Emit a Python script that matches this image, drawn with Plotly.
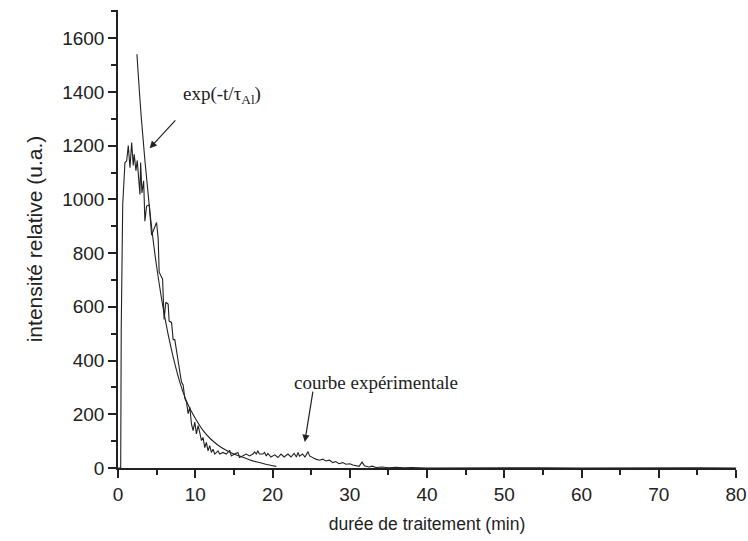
import plotly.graph_objects as go

t_exp = [0.0, 0.35, 0.42, 0.61, 0.90, 1.12, 1.33, 1.55, 1.77, 1.97, 2.10, 2.32, 2.49, 2.67,
         2.84, 2.93, 3.10, 3.32, 3.48, 3.70, 4.04, 4.35, 4.65, 4.99, 5.20, 5.33, 5.55, 5.77,
         5.97, 6.19, 6.49, 6.62, 6.93, 7.14, 7.35, 7.57, 7.80, 8.00, 8.21, 8.43, 8.65, 8.86,
         9.08, 9.29, 9.51, 9.72, 9.94, 10.15, 10.37, 10.58, 10.80, 11.01, 11.23, 11.44, 11.66,
         11.87, 12.09, 12.30, 12.52, 12.95, 13.16, 13.59, 14.02, 14.45, 14.67, 15.10, 15.52,
         15.74, 16.17, 16.60, 17.03, 17.46, 17.68, 17.90, 18.10, 18.30, 18.75, 18.97, 19.20,
         19.40, 19.80, 20.30, 20.70, 21.10, 21.50, 22.00, 22.40, 22.80, 23.10, 23.30, 23.50,
         23.90, 24.20, 24.60, 24.80, 25.20, 25.60, 26.10, 26.50, 26.90, 27.40, 27.80, 28.20,
         28.60, 29.10, 29.50, 30.00, 30.40, 30.80, 31.20, 31.60, 31.90, 32.50, 32.90, 33.40,
         34.20, 35.00, 36.00, 37.00, 38.00, 40.00, 45.00, 50.00, 55.00, 60.00, 65.00, 70.00,
         75.00, 80.00]
i_exp = [0, 0, 520, 980, 1137, 1143, 1200, 1118, 1212, 1126, 1168, 1107, 1145, 1093,
         1018, 1137, 1024, 1069, 919, 975, 980, 867, 892, 914, 855, 729, 716, 704,
         553, 617, 610, 547, 542, 478, 478, 440, 400, 352, 321, 309, 259, 246,
         202, 227, 164, 139, 171, 127, 158, 133, 102, 114, 76, 95, 64,
         83, 58, 70, 52, 64, 52, 58, 52, 66, 45, 52, 58,
         39, 45, 52, 45, 52, 60, 52, 64, 52, 52, 58, 45,
         54, 41, 49, 39, 52, 41, 52, 41, 54, 41, 58, 44,
         52, 41, 61, 45, 39, 33, 29, 33, 26, 29, 20, 24,
         16, 20, 14, 16, 11, 8, 6, 22, 8, 4, 7, 2,
         4, 1, 3, 1, 2, 0, 1, 0, 1, 0, 1, 0,
         1, 0]

# fitted decay exp(-t/tau_Al)
t_fit = [2.45, 3.0, 3.5, 4.0, 4.5, 5.0, 6.0, 7.0, 8.0, 9.0, 10.0, 11.0, 12.0, 13.0,
         14.0, 15.0, 16.0, 17.0, 18.0, 19.0, 20.5]
i_fit = [1540, 1310, 1140, 990, 860, 750, 570, 430, 320, 240, 185, 140, 108, 84,
         66, 52, 42, 31, 22, 15, 6]

fig = go.Figure()

fig.add_trace(go.Scatter(
    x=t_exp, y=i_exp, mode='lines',
    line=dict(color='#222222', width=1.1),
    showlegend=False
))

fig.add_trace(go.Scatter(
    x=t_fit, y=i_fit, mode='lines',
    line=dict(color='#222222', width=1.1, shape='spline'),
    showlegend=False
))

serif = dict(family='Liberation Serif, Times New Roman, serif', size=19, color='#222222')

fig.add_annotation(x=8.2, y=1388, xref='x', yref='y', text='exp(-t/τ<sub>Al</sub>)',
                   showarrow=False, xanchor='left', yanchor='middle', font=serif)
fig.add_annotation(x=4.1, y=1190, ax=7.6, ay=1300, xref='x', yref='y', axref='x', ayref='y',
                   text='', showarrow=True, arrowhead=2, arrowsize=1.2, arrowwidth=1.2,
                   arrowcolor='#222222')

fig.add_annotation(x=22.46, y=320, xref='x', yref='y', text='courbe expérimentale',
                   showarrow=False, xanchor='left', yanchor='middle', font=serif)
fig.add_annotation(x=24.18, y=97, ax=25.26, ay=290, xref='x', yref='y', axref='x', ayref='y',
                   text='', showarrow=True, arrowhead=2, arrowsize=1.2, arrowwidth=1.2,
                   arrowcolor='#222222')

sans = 'Arial, Liberation Sans, sans-serif'
axis_font = dict(family=sans, size=19, color='#222222')

fig.update_layout(
    width=748, height=541,
    margin=dict(l=118, r=12, t=10, b=73),
    plot_bgcolor='white', paper_bgcolor='white',
    font=axis_font,
    xaxis=dict(
        range=[0, 80], dtick=10, tick0=0, automargin=False,
        showline=True, linecolor='#222222', linewidth=1.5,
        ticks='outside', ticklen=8, tickwidth=1.5, tickcolor='#222222',
        minor=dict(ticks='outside', ticklen=5, tickwidth=1.5, dtick=5, tickcolor='#222222'),
        showgrid=False, zeroline=False,
        title=dict(text='durée de traitement (min)', font=dict(size=17.5), standoff=14),
        tickfont=dict(size=19),
    ),
    yaxis=dict(
        range=[0, 1705], dtick=200, tick0=0, automargin=False,
        showline=True, linecolor='#222222', linewidth=1.5,
        ticks='outside', ticklen=8, tickwidth=1.5, tickcolor='#222222',
        minor=dict(ticks='outside', ticklen=5, tickwidth=1.5, dtick=100, tickcolor='#222222'),
        showgrid=False, zeroline=False,
        title=dict(text='intensité relative (u.a.)', font=dict(size=21), standoff=14),
        tickfont=dict(size=19),
    ),
)

# drop the default 8px page margin so the figure fills the window exactly
fig.write_html("out.html", config={'displayModeBar': False},
               post_script="document.body.style.margin='0';"
                           "document.documentElement.style.overflow='hidden';")
